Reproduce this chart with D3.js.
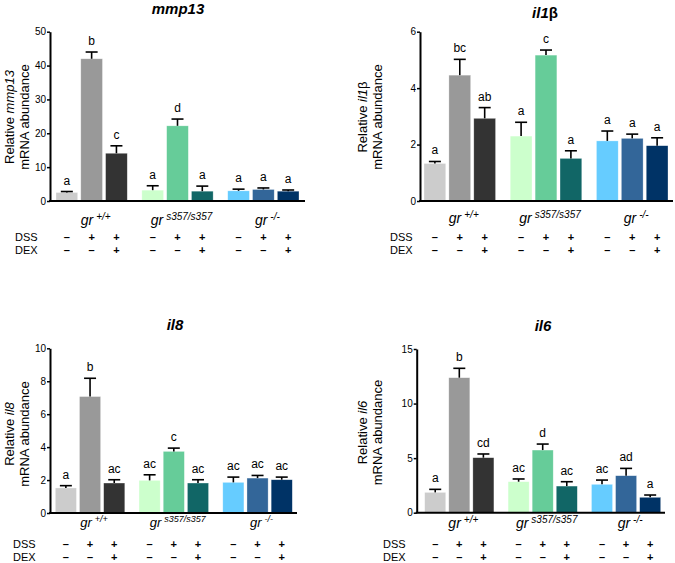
<!DOCTYPE html>
<html>
<head>
<meta charset="utf-8">
<script src="https://cdn.jsdelivr.net/npm/d3@7"></script>
<style>
  body { margin: 0; background: #fff; }
  svg { font-family: "Liberation Sans", Arial, sans-serif; }
  text { fill: #000; }
</style>
</head>
<body>
<div id="chart"></div>
<script>
// genotype groups and treatment rows
const genotypes = ["+/+", "s357/s357", "-/-"];
const dssRow = ["–", "+", "+", "–", "+", "+", "–", "+", "+"];
const dexRow = ["–", "–", "+", "–", "–", "+", "–", "–", "+"];

// mmp13
const mmp13Mean = [2.5, 42, 14.1, 3.2, 22.2, 2.9, 3.0, 3.4, 2.9];
const mmp13Sem = [0.3, 2.0, 2.2, 1.3, 2.0, 1.5, 0.5, 0.45, 0.35];
const mmp13Letters = ["a", "b", "c", "a", "d", "a", "a", "a", "a"];
const mmp13Ticks = [0, 10, 20, 30, 40, 50];

// il1b
const il1bMean = [1.33, 4.46, 2.93, 2.30, 5.17, 1.51, 2.13, 2.22, 1.96];
const il1bSem = [0.07, 0.56, 0.38, 0.49, 0.18, 0.27, 0.35, 0.15, 0.28];
const il1bLetters = ["a", "bc", "ab", "a", "c", "a", "a", "a", "a"];
const il1bTicks = [0, 2, 4, 6];

// il8
const il8Mean = [1.52, 7.07, 1.82, 1.98, 3.74, 1.82, 1.86, 2.12, 2.02];
const il8Sem = [0.14, 1.11, 0.2, 0.34, 0.2, 0.2, 0.32, 0.16, 0.16];
const il8Letters = ["a", "b", "ac", "ac", "c", "ac", "ac", "ac", "ac"];
const il8Ticks = [0, 2, 4, 6, 8, 10];

// il6
const il6Mean = [1.86, 12.37, 5.04, 2.84, 5.74, 2.44, 2.6, 3.39, 1.41];
const il6Sem = [0.28, 0.86, 0.34, 0.25, 0.55, 0.4, 0.39, 0.67, 0.21];
const il6Letters = ["a", "b", "cd", "ac", "d", "ac", "ac", "ad", "a"];
const il6Ticks = [0, 5, 10, 15];

const barColors = ["#cccccc", "#999999", "#333333",
                   "#ccffcc", "#66cc99", "#116666",
                   "#66ccff", "#336699", "#003366"];

const svg = d3.select("#chart").append("svg")
  .attr("width", 675)
  .attr("height", 563);

const panels = [
  { gene: "mmp13", greek: "", mean: mmp13Mean, sem: mmp13Sem, letters: mmp13Letters, ticks: mmp13Ticks,
    axisX: 50, xEnd: 305, y0: 201, yTop: 31.7, bars: [56, 299],
    titleX: 178, titleY: 14, labX: 14, labY: 117, rowX: 15, groupY: 225, dssY: 241, dexY: 254,
    gSize: 14, supSize: 10 },
  { gene: "il1", greek: "β", mean: il1bMean, sem: il1bSem, letters: il1bLetters, ticks: il1bTicks,
    axisX: 420, xEnd: 673, y0: 201, yTop: 31.7, bars: [424, 668],
    titleX: 545, titleY: 18, labX: 367, labY: 117, rowX: 390, groupY: 223, dssY: 241, dexY: 254,
    gSize: 14, supSize: 10 },
  { gene: "il8", greek: "", mean: il8Mean, sem: il8Sem, letters: il8Letters, ticks: il8Ticks,
    axisX: 50, xEnd: 297, y0: 513, yTop: 348.3, bars: [55.3, 292.3],
    titleX: 175, titleY: 330, labX: 14, labY: 434, rowX: 13, groupY: 527, dssY: 548, dexY: 561,
    gSize: 13, supSize: 9 },
  { gene: "il6", greek: "", mean: il6Mean, sem: il6Sem, letters: il6Letters, ticks: il6Ticks,
    axisX: 416.7, xEnd: 665, y0: 512.7, yTop: 349, bars: [424.7, 660.7],
    titleX: 543, titleY: 331, labX: 367, labY: 432.5, rowX: 383, groupY: 528, dssY: 548, dexY: 561,
    gSize: 14, supSize: 10 }
];

panels.forEach(p => drawPanel(p));

function drawPanel(p) {
  const g = svg.append("g");
  const idx = d3.range(p.mean.length);

  const y = d3.scaleLinear()
    .domain([0, d3.max(p.ticks)])
    .range([p.y0, p.yTop]);

  const xGroup = d3.scaleBand()
    .domain(d3.range(3))
    .range(p.bars)
    .paddingInner(0.17);

  const xBar = d3.scaleBand()
    .domain(d3.range(3))
    .range([0, xGroup.bandwidth()])
    .paddingInner(0.126);

  const bx = i => xGroup(Math.floor(i / 3)) + xBar(i % 3);
  const cx = i => bx(i) + xBar.bandwidth() / 2;

  // bars
  g.selectAll("rect.bar")
    .data(idx)
    .join("rect")
    .attr("class", "bar")
    .attr("x", i => bx(i))
    .attr("width", xBar.bandwidth())
    .attr("y", i => y(p.mean[i]))
    .attr("height", i => y(0) - y(p.mean[i]))
    .attr("fill", i => barColors[i])
    .attr("stroke", "#ffffff")
    .attr("stroke-opacity", 0.5)
    .attr("stroke-width", 0.6);

  // error bars (upper half only)
  g.selectAll("line.err")
    .data(idx)
    .join("line")
    .attr("class", "err")
    .attr("x1", cx).attr("x2", cx)
    .attr("y1", i => y(p.mean[i]))
    .attr("y2", i => y(p.mean[i] + p.sem[i]))
    .attr("stroke", "#000")
    .attr("stroke-width", 1.6);

  g.selectAll("line.cap")
    .data(idx)
    .join("line")
    .attr("class", "cap")
    .attr("x1", i => cx(i) - 6).attr("x2", i => cx(i) + 6)
    .attr("y1", i => y(p.mean[i] + p.sem[i]))
    .attr("y2", i => y(p.mean[i] + p.sem[i]))
    .attr("stroke", "#000")
    .attr("stroke-width", 1.6);

  // significance letters
  g.selectAll("text.letter")
    .data(idx)
    .join("text")
    .attr("class", "letter")
    .attr("x", cx)
    .attr("y", i => y(p.mean[i] + p.sem[i]) - 7)
    .attr("text-anchor", "middle")
    .attr("font-size", 12)
    .text(i => p.letters[i]);

  // y axis
  const yAxis = g.append("g")
    .attr("transform", `translate(${p.axisX},0)`)
    .call(d3.axisLeft(y).tickValues(p.ticks).tickFormat(d3.format("d"))
      .tickSize(3).tickSizeOuter(0).tickPadding(1));
  yAxis.select(".domain").attr("stroke-width", 2);
  yAxis.selectAll(".tick line").attr("stroke-width", 1.5);
  yAxis.selectAll(".tick text").attr("font-size", 10).attr("font-family", "Liberation Sans, Arial, sans-serif");

  // x axis line
  g.append("line")
    .attr("x1", p.axisX - 1).attr("x2", p.xEnd)
    .attr("y1", y(0)).attr("y2", y(0))
    .attr("stroke", "#000")
    .attr("stroke-width", 2);

  // title
  const t = g.append("text")
    .attr("x", p.titleX).attr("y", p.titleY)
    .attr("text-anchor", "middle")
    .attr("font-size", 15)
    .attr("font-weight", "bold");
  t.append("tspan").attr("font-style", "italic").text(p.gene);
  if (p.greek) t.append("tspan").text(p.greek);

  // y label
  const lab = g.append("g")
    .attr("transform", `translate(${p.labX},${p.labY}) rotate(-90)`);
  const l1 = lab.append("text")
    .attr("text-anchor", "middle")
    .attr("font-size", 13)
    .attr("y", 0);
  l1.append("tspan").text("Relative ");
  l1.append("tspan").attr("font-style", "italic").text(p.gene);
  if (p.greek) l1.append("tspan").text(p.greek);
  lab.append("text")
    .attr("text-anchor", "middle")
    .attr("font-size", 13)
    .attr("y", 15)
    .text("mRNA abundance");

  // genotype labels
  genotypes.forEach((gt, k) => {
    const gx = xGroup(k) + xGroup.bandwidth() / 2;
    const gl = g.append("text")
      .attr("x", gx + 4).attr("y", p.groupY)
      .attr("text-anchor", "middle")
      .attr("font-style", "italic");
    gl.append("tspan").attr("font-size", p.gSize).text("gr");
    gl.append("tspan").attr("font-size", p.supSize).attr("dy", -5).attr("dx", 3).text(gt);
  });

  // treatment rows
  g.append("text").attr("x", p.rowX).attr("y", p.dssY).attr("font-size", 11).text("DSS");
  g.append("text").attr("x", p.rowX).attr("y", p.dexY).attr("font-size", 11).text("DEX");
  g.selectAll("text.dss")
    .data(idx)
    .join("text")
    .attr("class", "dss")
    .attr("x", cx).attr("y", p.dssY)
    .attr("text-anchor", "middle")
    .attr("font-size", 11)
    .attr("font-weight", "bold")
    .text(i => dssRow[i]);
  g.selectAll("text.dex")
    .data(idx)
    .join("text")
    .attr("class", "dex")
    .attr("x", cx).attr("y", p.dexY)
    .attr("text-anchor", "middle")
    .attr("font-size", 11)
    .attr("font-weight", "bold")
    .text(i => dexRow[i]);
}
</script>
</body>
</html>
